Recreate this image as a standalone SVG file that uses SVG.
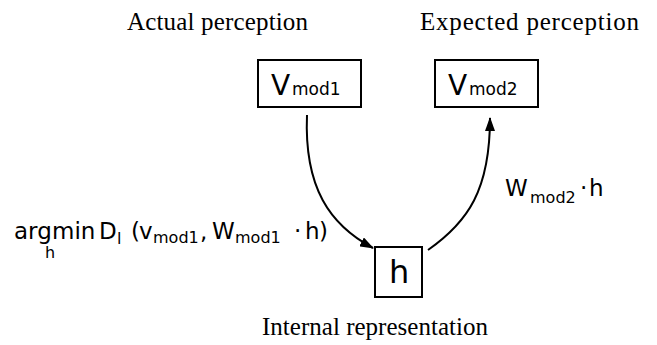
<svg xmlns="http://www.w3.org/2000/svg" width="657" height="345" viewBox="0 0 657 345">
<style>
.box{fill:#fff;stroke:#000;stroke-width:2}
.serif{font-family:"Liberation Serif","Times New Roman",serif;font-size:25px;fill:#000}
.sans{font-family:"DejaVu Sans",Verdana,sans-serif;fill:#000}
.edge{fill:none;stroke:#000;stroke-width:2}
</style>
<defs>
<marker id="arr" markerWidth="14" markerHeight="10" refX="13" refY="5" orient="auto" markerUnits="userSpaceOnUse">
<path d="M0,0 L14,5 L0,10 Z" fill="#000"/>
</marker>
</defs>
<rect width="657" height="345" fill="#fff"/>
<text class="serif" x="127" y="30" textLength="181" lengthAdjust="spacing">Actual perception</text>
<text class="serif" x="420" y="30" textLength="219" lengthAdjust="spacing">Expected perception</text>
<text class="serif" x="262" y="335" textLength="226" lengthAdjust="spacing">Internal representation</text>
<g id="vmod1">
<rect class="box" x="258" y="60" width="103" height="47"/>
<text class="sans" y="95"><tspan x="271" font-size="28">V</tspan><tspan x="292" font-size="17">mod1</tspan></text>
</g>
<g id="vmod2">
<rect class="box" x="435" y="60" width="103" height="47"/>
<text class="sans" y="95"><tspan x="448" font-size="28">V</tspan><tspan x="469" font-size="17">mod2</tspan></text>
</g>
<g id="h">
<rect class="box" x="375" y="247" width="47" height="50"/>
<text class="sans" x="389" y="283" font-size="32">h</text>
</g>
<g id="connectors">
<path class="edge" d="M307,115 C304,188 330,225 373,248" marker-end="url(#arr)"/>
<path class="edge" d="M428,250 C468,222 490,190 490,118" marker-end="url(#arr)"/>
</g>
<g id="labels">
<text class="sans" font-size="23"><tspan x="14" y="239">arg</tspan><tspan x="52" y="239">min</tspan><tspan x="99" y="239">D</tspan><tspan x="131" y="239">(</tspan><tspan x="139" y="239">v</tspan><tspan x="200" y="239">,</tspan><tspan x="212" y="239">W</tspan><tspan x="294" y="239">·</tspan><tspan x="305" y="239">h</tspan><tspan x="319" y="239">)</tspan></text>
<text class="sans" font-size="16"><tspan x="45" y="258">h</tspan><tspan x="117" y="244">l</tspan><tspan x="153" y="243">mod1</tspan><tspan x="235" y="243">mod1</tspan></text>
<text class="sans"><tspan x="505" y="196" font-size="23">W</tspan><tspan x="530" y="203" font-size="16">mod2</tspan><tspan x="580" y="196" font-size="23">·</tspan><tspan x="589" y="196" font-size="23">h</tspan></text>
</g>
</svg>
